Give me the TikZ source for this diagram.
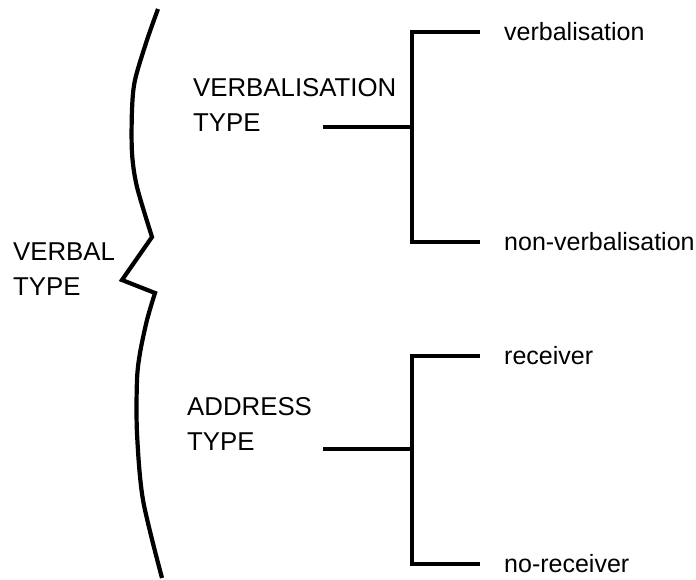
\documentclass[tikz,border=0pt]{standalone}
\usepackage{fontspec}
\setmainfont{Liberation Sans}
\usetikzlibrary{positioning}

\begin{document}
\begin{tikzpicture}[x=1pt, y=-1pt,
        lbl/.style={font=\fontsize{25.8}{35}\selectfont, inner sep=0pt, anchor=north west, align=left},
        leaf/.style={font=\fontsize{25}{30}\selectfont, inner sep=0pt, anchor=west},
        stem/.style={line width=3.3pt},
        branch/.style={line width=3.3pt, shorten >=24pt}]
        \useasboundingbox (0,0) rectangle (696,580);

        % labels
        \node[lbl] (verbal) at (13,243) {VERBAL\\TYPE};
        \node[lbl] (vtype) at (193,78) {VERBALISATION\\TYPE};
        \node[lbl] (atype) at (187,397) {ADDRESS\\TYPE};
        \node[leaf] (verb) at (504,32) {verbalisation};
        \node[leaf] (nonverb) at (504,242) {non-verbalisation};
        \node[leaf] (recv) at (504,356) {receiver};
        \node[leaf] (norecv) at (504,564) {no-receiver};

        % brace
        \draw[line width=4.2pt, line join=miter]
            plot[smooth] coordinates {(158,9) (147,40) (135,80) (132,110) (132,153) (137,187) (152,237)}
            -- (122,280) --
            plot[smooth] coordinates {(155,293) (147,320) (140,353) (137,380) (137,433) (143,500) (162,578)};

        % trees
        \coordinate (vstem) at (323,127);
        \coordinate (vjoint) at (412,127);
        \coordinate (astem) at (323,449);
        \coordinate (ajoint) at (412,449);
        \draw[stem] (vstem) -- (vjoint);
        \draw[branch] (vjoint) |- (verb.west);
        \draw[branch] (vjoint) |- (nonverb.west);
        \draw[stem] (astem) -- (ajoint);
        \draw[branch] (ajoint) |- (recv.west);
        \draw[branch] (ajoint) |- (norecv.west);
    \end{tikzpicture}
\end{document}
